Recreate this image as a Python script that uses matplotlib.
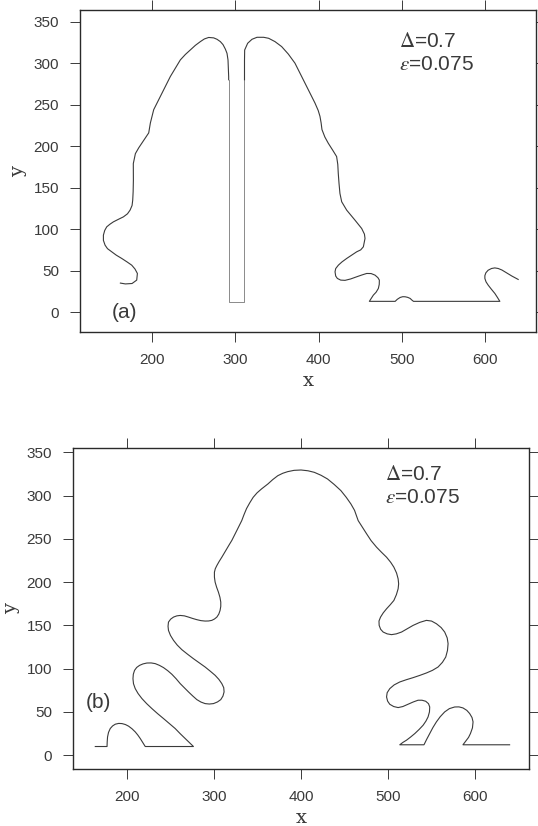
"""
Interface profiles y(x) for Delta=0.7, eps=0.075, two panels (a) and (b)
"""

import matplotlib
matplotlib.use("Agg")
import matplotlib.pyplot as plt

plt.rcParams['font.family'] = ['Liberation Sans', 'DejaVu Sans']
plt.rcParams['mathtext.fontset'] = 'stix'

INK = '#3a3a3a'

# ---- panel (a): interface traced along its length ----
a_left_x = [162, 168, 176, 181.6, 182.4, 179.5, 175.6, 170, 163.6, 157, 151.6, 146.5,
            143.6, 141.6, 141.6, 143.2, 145.6, 149.5, 153.6, 159.5, 165.6, 170.5,
            173.6, 176, 176.8, 177.3, 177.6, 177.5, 180, 184, 188, 192, 196, 198,
            202, 210, 216, 222, 228, 234, 240, 246, 252, 258, 262.8, 268, 274, 278,
            282, 285.2, 288, 290, 291.2, 292, 292]
a_left_y = [35, 34, 34.5, 38.6, 46.6, 52, 56.6, 60.5, 64.7, 68.7, 72.7, 76.5,
            80.7, 86.5, 92.8, 98.5, 102.8, 106, 108.8, 111.8, 114.8, 118.5,
            122.9, 128.5, 135, 145, 159, 179, 191, 198, 204, 210, 216, 228,
            244, 260, 272, 284, 294, 304, 310.5, 316, 321.5, 326, 329.2, 331, 330.5, 328.8,
            326, 322.4, 317, 311.9, 303.9, 283.8, 280]

# narrow slot between the two humps
a_slot_x = [292, 292, 311, 311]
a_slot_y = [280, 12, 12, 280]

a_right_x = [311, 311, 311.2, 314.8, 320, 326, 334, 340, 347.6, 355.6, 363.6, 371.6,
             377.6, 383.6, 389.6, 395.6, 399.5, 401.6, 403, 404, 407.5, 411.6, 417,
             421.6, 423, 423.6, 424.5, 425.6, 427.7, 433.7, 443.7, 451.7, 455, 455.7,
             453.7, 450.5, 445.7, 439.7, 433.7, 428, 423.7, 420.5, 419.7, 420.5, 422.5,
             426.5, 431.7, 438.5, 445.7, 452, 457.7, 463, 467.7, 471.2, 472.9, 472.8,
             471.7, 469, 465.7, 460.9, 491.9, 494.5, 497.9, 501, 503.9, 507, 509.9,
             512, 513.9, 617.6, 614.5, 611.6, 607.5, 603.6, 601, 599.6, 599.6, 600.8,
             603.5, 607.6, 611.5, 615.6, 620, 625.6, 632, 639.6]
a_right_y = [280, 303, 315.9, 324, 328.8, 331.2, 331.2, 330, 326, 320, 311, 300,
             288, 276, 264, 252, 243, 236, 228, 220, 211, 203.5, 195,
             187.5, 178, 167, 155, 143, 133, 122.9, 110.8, 100.8, 94, 88.8,
             78.7, 75, 72.7, 68.7, 64.7, 60.5, 56.6, 52.5, 48.6, 43.5, 40.6,
             38.6, 38.3, 40, 42.6, 44.8, 46.6, 46.5, 44.6, 41.5, 38.6, 33.5,
             28.5, 24, 20.5, 13, 13, 15.5, 17.7, 18.6, 18.5, 17.8, 16.5,
             14.5, 13, 13, 18, 22.5, 27.5, 32.5, 36.5, 40.6, 44, 47.4,
             50.5, 52.6, 53.3, 52.6, 50.8, 47.4, 43.5, 39.4]

# ---- panel (b) ----
b_x = [163.6, 177.1, 177.3, 177.7, 178.8, 180.8, 183.5, 186.6, 190.5, 194.3, 198.2,
       201.9, 205.8, 209.5, 212.5, 215.3, 218.2, 221, 276.4, 271.5, 266.9, 261.2,
       255.4, 248.7, 242, 235.2, 228.7, 222.6, 217.2, 212.8, 209.5, 207.5, 206.9,
       207.3, 208.7, 211.2, 214.5, 218.5, 222.9, 227.8, 232.5, 237.3, 242, 246.9,
       251.6, 256.5, 261.2, 266, 270.7, 275.5, 280.3, 285, 289.8, 294.6, 299.4,
       304, 307.8, 310.3, 311.6, 311.2, 309, 305.6, 301.3, 295.8, 289.8, 283,
       276.4, 269.6, 263.1, 257.8, 253.5, 250, 247.7, 247.2, 247.7, 250.2, 253.5,
       257.3, 261.2, 266, 270.7, 275.5, 280.3, 285, 289.8, 293.8, 297.5, 300.6,
       303.3, 305.5, 307, 307.8, 307.8, 306.8, 305.1, 303, 301.3, 300.5, 300.5,
       301.5, 303.3, 306, 309, 311.8, 314.7, 317.6, 320.5, 323.4, 326.2, 329,
       331.9, 334.5, 337.4, 341, 345, 349.5, 354.6, 362, 367.5, 373.3, 379, 384.7,
       392, 400, 408, 415.3, 423, 430.5, 438, 445.8, 452, 457.3, 461.5, 465.7,
       470.5, 475.4, 480.5, 486.8, 492.5, 498.3, 503, 506.7, 509.8, 511.6, 512.2,
       511.6, 509.6, 506.7, 502.5, 498.3, 494.5, 491.4, 489.6, 489.8, 491.5, 494.4,
       499, 504, 509.5, 515.5, 522, 528.8, 536.5, 544.1, 550, 555.6, 561, 565.1,
       568, 569, 568.3, 566.3, 562.5, 557.5, 551, 544.1, 536.5, 528.8, 521, 513.5,
       507, 502, 499, 498.3, 499.5, 502, 506.5, 511.6, 517, 523, 529, 534.5, 539,
       543.3, 546.5, 547.9, 547.6, 546, 543.5, 540.3, 535.8, 530.8, 526, 521.2,
       517, 513.5, 541.3, 544.5, 547.9, 551.5, 555.6, 560, 565.1, 570.5, 576.6,
       581.5, 586.1, 590.5, 593.8, 596.5, 597.7, 597, 594.7, 592.5, 590.1, 588,
       586.1, 639.7]
b_y = [10, 10, 15.5, 21.1, 26.3, 30.8, 33.8, 35.8, 36.7, 36.5, 35.4,
       33.5, 30.5, 26.9, 23.2, 19.2, 14.5, 10, 10, 14.8, 19.2, 24.8,
       30.8, 36.6, 42.3, 48, 53.8, 59.6, 65.4, 71.2, 76.9, 82.6, 88.4,
       93.5, 98, 101.4, 103.8, 105.5, 106.5, 106.6, 105.8, 103.8, 101.2, 97.6,
       93.5, 88.3, 82.7, 77.8, 73.1, 68.5, 64.2, 61.4, 59.6, 59.1, 59.6,
       61.5, 64.2, 68.3, 73.1, 78, 82.7, 87.6, 92.3, 97, 101.9, 106.7,
       111.5, 116.7, 121.9, 127.2, 132.7, 138.4, 144.2, 149, 153.8, 157.2, 159.6,
       161, 161.5, 161, 159.6, 158, 156.6, 155.5, 155, 155.1, 155.8, 157.4,
       159.6, 163, 167.3, 172, 176.9, 182.6, 188.4, 194.2, 200, 205.8, 211.5,
       215.5, 219.2, 224, 228.8, 233.6, 238.5, 243.4, 248.2, 253.9, 259.6, 265.3,
       271.1, 278, 285, 291.5, 298, 303.2, 307.7, 313.5, 318.5, 323, 325.8, 327.7,
       329.2, 329.6, 328.7, 326.9, 323.5, 319.2, 313, 305.8, 298, 290.4, 283, 271.1,
       263.5, 255.8, 248, 240.4, 234.5, 228.8, 223, 217.3, 210.5, 203.8, 198,
       192.3, 185.5, 178.8, 173.8, 169.2, 164.5, 159.6, 155, 150, 145.5, 142.3,
       140.2, 139.3, 140.2, 142.3, 146, 150, 153.5, 155.8, 155, 151.9, 147.5, 142.3,
       135.5, 128.9, 121, 113.4, 107.3, 101.9, 98, 95, 92.2, 89.6, 87.2, 84.6,
       81.2, 76.9, 72.2, 67.3, 62.5, 58.8, 56.2, 55, 56.2, 58.8, 61.5, 63.5, 63.5,
       62.3, 59.5, 55.7, 50, 44.2, 39.3, 34.6, 29.8, 25, 21, 17.3,
       14.7, 12, 12, 18.5, 25, 31.8, 38.5, 44.5, 50, 53.8, 55.7,
       55.8, 54.6, 51.8, 48.1, 43.5, 38.5, 31.5, 25, 20.5, 17.3, 14.6,
       12, 12]

XTICKS = [200, 300, 400, 500, 600]
YTICKS = [0, 50, 100, 150, 200, 250, 300, 350]
PARAM_TEXT = [r'$\Delta$=0.7', r'$\varepsilon$=0.075']


def style_axes(ax, xlim, ylim):
    ax.set_xlim(xlim)
    ax.set_ylim(ylim)
    ax.set_xticks(XTICKS)
    ax.set_yticks(YTICKS)
    ax.tick_params(direction='out', length=7, width=0.7, pad=8,
                   labelsize=11, colors=INK, top=True, right=True)
    for side in ax.spines.values():
        side.set_linewidth(1.0)
        side.set_color('#2a2a2a')
    ax.set_xlabel('x', family='DejaVu Serif', fontsize=14, color=INK, labelpad=4)
    ax.set_ylabel('y', family='DejaVu Serif', fontsize=14, color=INK, labelpad=5)


fig = plt.figure(figsize=(5.38, 8.26), dpi=100)

# panel (a)
ax1 = fig.add_axes([0.1487, 0.598, 0.8476, 0.3898])
ax1.plot(a_left_x, a_left_y, color=INK, lw=0.8)
ax1.plot(a_slot_x, a_slot_y, color='#8a8a8a', lw=0.7)
ax1.plot(a_right_x, a_right_y, color=INK, lw=0.8)
style_axes(ax1, (113.5, 661), (-24, 364))
ax1.text(497, 320, PARAM_TEXT[0], fontsize=15, color=INK)
ax1.text(497, 292, PARAM_TEXT[1], fontsize=15, color=INK)
ax1.text(152, -7, '(a)', fontsize=15, color=INK)

# panel (b)
ax2 = fig.add_axes([0.1357, 0.069, 0.8476, 0.3886])
ax2.plot(b_x, b_y, color=INK, lw=0.8)
style_axes(ax2, (138, 662), (-16, 355))
ax2.text(497, 318, PARAM_TEXT[0], fontsize=15, color=INK)
ax2.text(497, 291, PARAM_TEXT[1], fontsize=15, color=INK)
ax2.text(153, 55, '(b)', fontsize=15, color=INK)

fig.savefig('out.png', dpi=100, facecolor='white')
